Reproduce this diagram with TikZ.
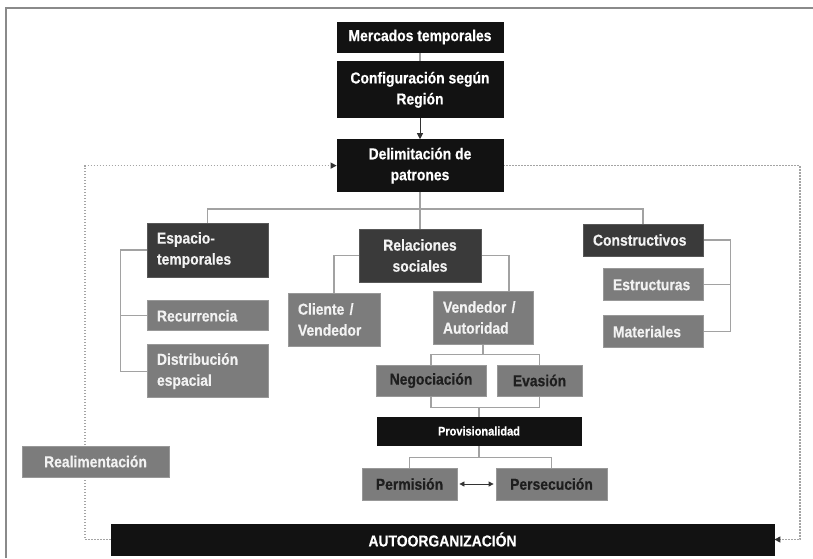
\documentclass[tikz,border=0pt]{standalone}
\usepackage{fontspec}
\setmainfont{Liberation Sans}[FakeStretch=0.88, BoldFeatures={FakeBold=0.4}]
\usetikzlibrary{arrows.meta, positioning, backgrounds}
\definecolor{pblack}{HTML}{121212}
\definecolor{pdark}{HTML}{3A3A3A}
\definecolor{pdarkline}{HTML}{585858}
\definecolor{pgray}{HTML}{7C7C7C}
\definecolor{pgrayline}{HTML}{989898}
\definecolor{ptextlight}{HTML}{F2F2F2}
\definecolor{ptextdark}{HTML}{1E1E1E}
\definecolor{plinegray}{HTML}{A2A2A2}
\definecolor{pdotgray}{HTML}{A4A4A4}
\definecolor{parrow}{HTML}{333333}
\definecolor{pframe}{HTML}{8A8A8A}
\tikzset{
	pnode/.style={font=\bfseries\fontsize{15.8}{21}\selectfont, inner xsep=10pt, inner ysep=0pt, line width=0.8pt},
	pblk/.style={pnode, fill=pblack, draw=pblack, text=white, align=center},
	pdrk/.style={pnode, fill=pdark, draw=pdarkline, text=ptextlight, align=left},
	pgry/.style={pnode, fill=pgray, draw=pgrayline, text=ptextlight, align=left},
	pgryd/.style={pgry, text=ptextdark, align=center},
	pline/.style={draw=plinegray, line width=1.2pt},
	parr/.style={-{Triangle[length=6pt, width=6pt]}, draw=parrow, line width=0.8pt},
	pfeed/.style={draw=pdotgray, line width=1.3pt, dash pattern=on 1.5pt off 1.5pt,
		-{Triangle[length=6pt, width=6pt, color=parrow]}}
}

\begin{document}
\begin{tikzpicture}[x=1pt, y=-1pt, node distance=9pt]
	\useasboundingbox (0,0) rectangle (813,558);
	\node[pblk, minimum width=166pt, minimum height=30pt] (merc) at (420,37) {Mercados temporales};
	\node[pblk, minimum width=166pt, minimum height=56pt, below=9pt of merc] (conf) {Configuración según\\Región};
	\node[pblk, minimum width=166pt, minimum height=52pt, below=21pt of conf] (delim) {Delimitación de\\patrones};
	\node[pdrk, text width=101pt, minimum height=54pt] (esp) at (207.5,250) {Espacio-\\temporales};
	\node[pgry, text width=101pt, minimum height=30pt, below=23pt of esp] (rec) {Recurrencia};
	\node[pgry, text width=101pt, minimum height=53pt, below=13pt of rec] (dist) {Distribución\\espacial};
	\node[pdrk, align=center, minimum width=122pt, minimum height=53pt] (rel) at (420,255.5) {Relaciones\\sociales};
	\node[pdrk, text width=100pt, minimum height=32pt] (cons) at (643,240) {Constructivos};
	\node[pgry, text width=80pt, minimum height=32pt, below left=12pt and 0pt of cons.south east] (estr) {Estructuras};
	\node[pgry, text width=80pt, minimum height=32pt, below=14pt of estr] (mat) {Materiales};
	\node[pgry, text width=72pt, minimum height=53pt] (cli) at (334,319.5) {Cliente /\\Vendedor};
	\node[pgry, text width=80pt, minimum height=53pt] (vend) at (483,317.5) {Vendedor /\\Autoridad};
	\node[pgryd, minimum width=110pt, minimum height=31pt] (neg) at (431,380.5) {Negociación};
	\node[pgryd, minimum width=85pt, minimum height=31pt] (eva) at (539.5,380.5) {Evasión};
	\node[pblk, font=\bfseries\fontsize{12.5}{14}\selectfont, minimum width=204pt, minimum height=28pt] (prov) at (479,431) {Provisionalidad};
	\node[pgryd, minimum width=95pt, minimum height=32pt] (perm) at (409.5,484) {Permisión};
	\node[pgryd, minimum width=111pt, minimum height=32pt] (pers) at (551.5,484) {Persecución};
	\node[pblk, minimum width=663pt, minimum height=31pt] (auto) at (442.5,539.5) {AUTOORGANIZACIÓN};
	\node[pgry, align=center, minimum width=147pt, minimum height=31pt] (real) at (95.5,461.5) {Realimentación};
	\coordinate (fl) at (85,0);
	\coordinate (fr) at (800,0);
	\begin{scope}[on background layer]
		\draw[draw=pframe, line width=2pt] (5.5,558) -- (5.5,7.5) -- (813,7.5);
		\draw[pline] (merc) -- (conf);
		\draw[parr] (conf) -- (delim);
		\draw[pline] (delim.south) -- ++(0,17) coordinate (t1);
		\draw[pline] (esp.north) |- (t1) -| (cons.north);
		\draw[pline] (t1) -- (rel.north);
		\draw[pline] (esp.west) -- ++(-26,0) |- (dist.west);
		\draw[pline] (rec.west) -- ++(-26,0);
		\draw[pline] (cons.east) -- ++(27,0) |- (mat.east);
		\draw[pline] (estr.east) -- ++(27,0);
		\draw[pline] (rel.west) -| (cli.north);
		\draw[pline] (rel.east) -| ([xshift=26pt]vend.north);
		\draw[pline] (vend.south) -- ++(0,10) coordinate (t2);
		\path (neg.south) ++(0,11) coordinate (t3);
		\draw[pline] (neg.center |- t2) rectangle (eva.center |- t3);
		\draw[pline] (prov.north) -- (prov.north |- t3);
		\draw[pline] (prov.south) -- ++(0,12) coordinate (t4);
		\draw[pline] (perm.north) |- (t4) -| (pers.north);
		\draw[parr, {Triangle[length=5pt, width=5pt]}-{Triangle[length=5pt, width=5pt]}, shorten <=2pt, shorten >=2pt] (perm) -- (pers);
		\draw[pfeed] (auto.west) -- (auto.west -| fl) -- (delim.west -| fl) -- (delim.west);
		\draw[pfeed] (delim.east) -- (delim.east -| fr) -- (auto.east -| fr) -- (auto.east);
	\end{scope}
\end{tikzpicture}
\end{document}
